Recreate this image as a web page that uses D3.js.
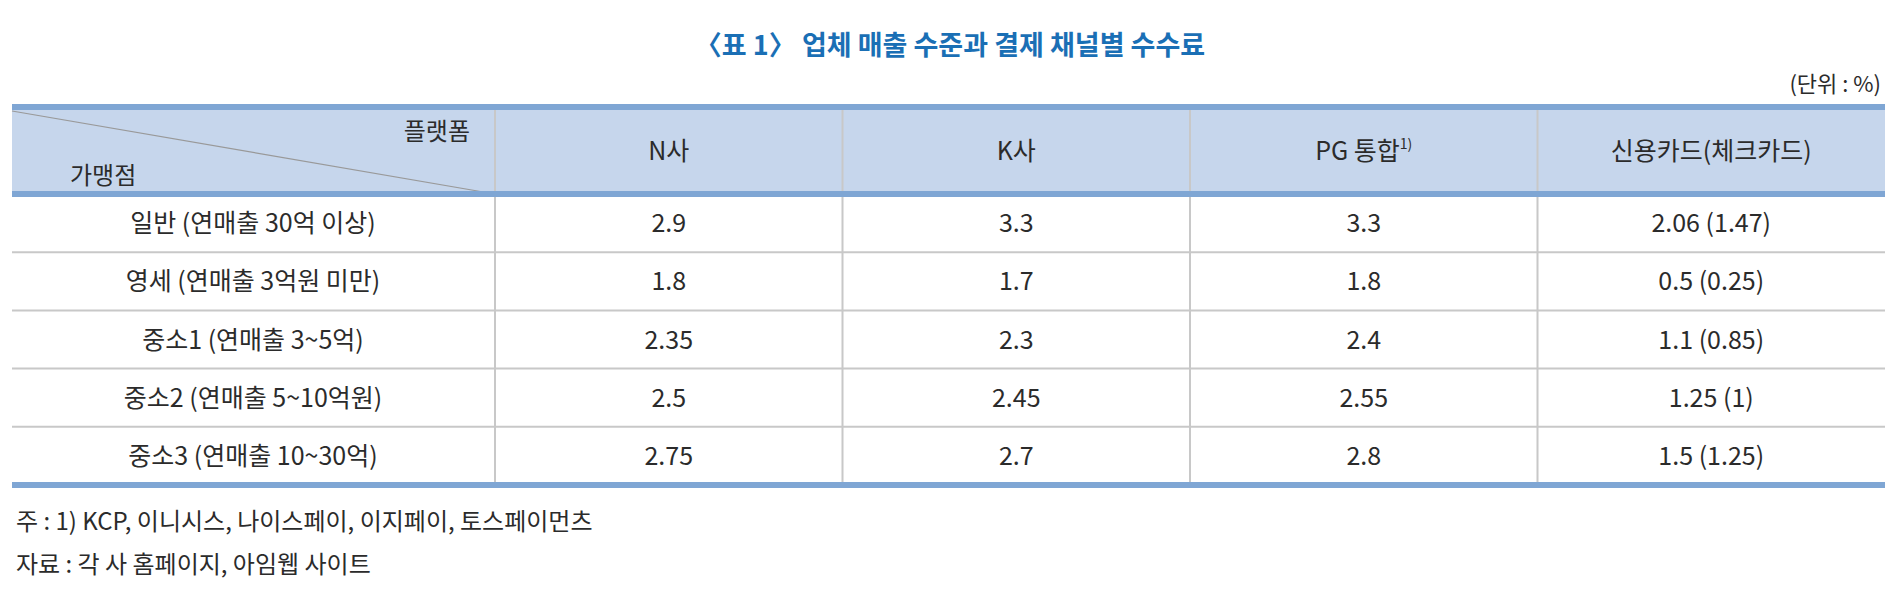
<!DOCTYPE html><html><head><meta charset="utf-8">
<script src="https://cdn.jsdelivr.net/npm/d3@7"></script>
<style>body{margin:0;background:#fff}text{font-family:"Noto Sans CJK KR","Noto Sans",sans-serif}</style></head><body>
<svg id="c" width="1900" height="607"></svg>
<script>
const title = "〈표 1〉 업체 매출 수준과 결제 채널별 수수료";
const unit = "(단위 : %)";
const columns = ["N사", "K사", "PG 통합", "신용카드(체크카드)"];
const rowLabels = ["일반 (연매출 30억 이상)", "영세 (연매출 3억원 미만)", "중소1 (연매출 3~5억)", "중소2 (연매출 5~10억원)", "중소3 (연매출 10~30억)"];
const nValues = ["2.9", "1.8", "2.35", "2.5", "2.75"];
const kValues = ["3.3", "1.7", "2.3", "2.45", "2.7"];
const pgValues = ["3.3", "1.8", "2.4", "2.55", "2.8"];
const cardValues = ["2.06 (1.47)", "0.5 (0.25)", "1.1 (0.85)", "1.25 (1)", "1.5 (1.25)"];
const notes = ["주 : 1)  KCP, 이니시스, 나이스페이, 이지페이, 토스페이먼츠", "자료 : 각 사 홈페이지, 아임웹 사이트"];

const svg = d3.select("#c");
const tL = 12, tR = 1885, colStart = 495, tTop = 107, headB = 194, tBot = 485;
const x = d3.scaleBand().domain(columns).range([colStart, tR]);
const y = d3.scaleBand().domain(rowLabels).range([headB, tBot]);
const txt = "#2b2b2b", grid = "#c8c8c8", band = "#7fa6d4";

svg.append("text").attr("x", 950).attr("y", 55).attr("text-anchor", "middle")
  .attr("font-size", 27).attr("font-weight", 700).attr("fill", "#1a6fb5").text(title);
svg.append("text").attr("x", 1881).attr("y", 92).attr("text-anchor", "end")
  .attr("font-size", 22).attr("fill", txt).text(unit);

svg.append("rect").attr("x", tL).attr("y", tTop).attr("width", tR - tL).attr("height", headB - tTop).attr("fill", "#c6d6ec");
svg.append("line").attr("x1", tL).attr("y1", tTop + 4).attr("x2", colStart).attr("y2", headB).attr("stroke", "#999").attr("stroke-width", 1.2);
svg.append("text").attr("x", 470).attr("y", 140).attr("text-anchor", "end").attr("font-size", 24).attr("fill", txt).text("플랫폼");
svg.append("text").attr("x", 70).attr("y", 184).attr("font-size", 24).attr("fill", txt).text("가맹점");

const hy = (tTop + headB) / 2 + 9;
columns.forEach(c => {
  const t = svg.append("text").attr("x", x(c) + x.bandwidth() / 2).attr("y", hy).attr("text-anchor", "middle").attr("font-size", 25).attr("fill", txt).text(c);
  if (c === "PG 통합") t.append("tspan").attr("font-size", 14).attr("dy", -11).text("1)");
});

rowLabels.slice(1).forEach(r => svg.append("line").attr("x1", tL).attr("x2", tR).attr("y1", y(r)).attr("y2", y(r)).attr("stroke", grid).attr("stroke-width", 2));
[colStart, ...columns.slice(1).map(c => x(c))].forEach(cx => svg.append("line").attr("x1", cx).attr("x2", cx).attr("y1", tTop).attr("y2", tBot).attr("stroke", grid).attr("stroke-width", 2));

[tTop, headB, tBot].forEach(by => svg.append("rect").attr("x", tL).attr("width", tR - tL).attr("y", by - 3).attr("height", 6).attr("fill", band));

const series = [nValues, kValues, pgValues, cardValues];
rowLabels.forEach((r, i) => {
  const cy = y(r) + y.bandwidth() / 2 + 9;
  svg.append("text").attr("x", 253).attr("y", cy).attr("text-anchor", "middle").attr("font-size", 25).attr("fill", txt).text(r);
  columns.forEach((c, j) => svg.append("text").attr("x", x(c) + x.bandwidth() / 2).attr("y", cy).attr("text-anchor", "middle").attr("font-size", 25).attr("fill", txt).text(series[j][i]));
});

notes.forEach((n, i) => svg.append("text").attr("x", 16).attr("y", 530 + i * 43).attr("font-size", 24).attr("fill", txt).text(n));
</script></body></html>
